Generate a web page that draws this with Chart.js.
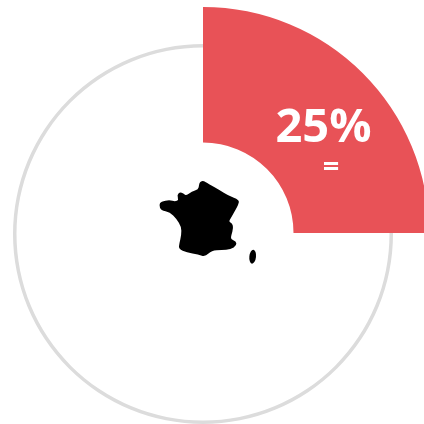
<!DOCTYPE html>
<html>
<head>
<meta charset="utf-8">
<script src="https://cdn.jsdelivr.net/npm/chart.js@4"></script>
<style>
  html, body { margin: 0; width: 424px; height: 424px; overflow: hidden; background: #fff; }
  canvas, svg, .label { position: absolute; }
  #ringChart { left: 13px; top: 44px; }
  #shareChart { left: -23px; top: 7px; }
  #france { left: 140px; top: 170px; }
  .label { color: #fff; font-family: "Open Sans", sans-serif; line-height: 1; white-space: nowrap; transform: translateX(-50%); }
  #shareLabel { left: 323.5px; top: 101px; font-size: 47px; font-weight: 700; }
  #changeLabel { left: 331px; top: 150px; font-size: 29px; font-weight: 700; }
</style>
</head>
<body>
<canvas id="ringChart" width="380" height="380"></canvas>
<canvas id="shareChart" width="452" height="452"></canvas>
<svg id="france" width="130" height="100" viewBox="0 0 390 300">
  <path id="francePath" fill="#000"/>
  <ellipse cx="338" cy="260" rx="10" ry="21" fill="#000" transform="rotate(6 338 260)"/>
</svg>
<div class="label" id="shareLabel"></div>
<div class="label" id="changeLabel"></div>
<script>
let shareLabels = ['France', 'Autres'];
let shareValues = [25, 75];
let shareColors = ['#E85257', 'rgba(0,0,0,0)'];
let ringValues = [100];
let changeText = '=';

// contour de la France, repris du zoom (x3)
let outline = [[180,35],[190,32],[205,41],[240,61],[265,77],[298,89],[295,104],[285,122],[274,142],[266,155],[277,160],[280,175],[274,195],[272,208],[288,213],[290,227],[272,238],[245,240],[215,241],[196,260],[175,254],[140,247],[116,237],[118,220],[124,195],[124,170],[109,146],[90,127],[63,121],[57,105],[63,94],[90,90],[105,95],[116,90],[111,75],[120,66],[130,71],[140,77],[155,64],[175,59],[177,45]];

// lissage : courbes entre les milieux des segments
let mid = (a, b) => [(a[0] + b[0]) / 2, (a[1] + b[1]) / 2];
let start = mid(outline[outline.length - 1], outline[0]);
let d = 'M' + start.join(' ');
outline.forEach((p, i) => {
    let m = mid(p, outline[(i + 1) % outline.length]);
    d += ' Q' + p.join(' ') + ' ' + m.join(' ');
});
document.getElementById('francePath').setAttribute('d', d + ' Z');

// commun aux deux anneaux
let baseOptions = {
    responsive: false,
    animation: false,
    layout: { padding: 0 },
    plugins: { legend: { display: false }, tooltip: { enabled: false } }
};

new Chart(document.getElementById('ringChart').getContext('2d'), {
    type: 'doughnut',
    data: {
        labels: ['Total'],
        datasets: [{ data: ringValues, backgroundColor: ['#DCDCDC'], borderWidth: 0 }]
    },
    options: { ...baseOptions, cutout: 186.5 }
});

new Chart(document.getElementById('shareChart').getContext('2d'), {
    type: 'doughnut',
    data: {
        labels: shareLabels,
        datasets: [{ data: shareValues, backgroundColor: shareColors, borderWidth: 0 }]
    },
    options: { ...baseOptions, cutout: 90.5 }
});

document.getElementById('shareLabel').textContent = shareValues[0] + '%';
document.getElementById('changeLabel').textContent = changeText;
</script>
</body>
</html>
